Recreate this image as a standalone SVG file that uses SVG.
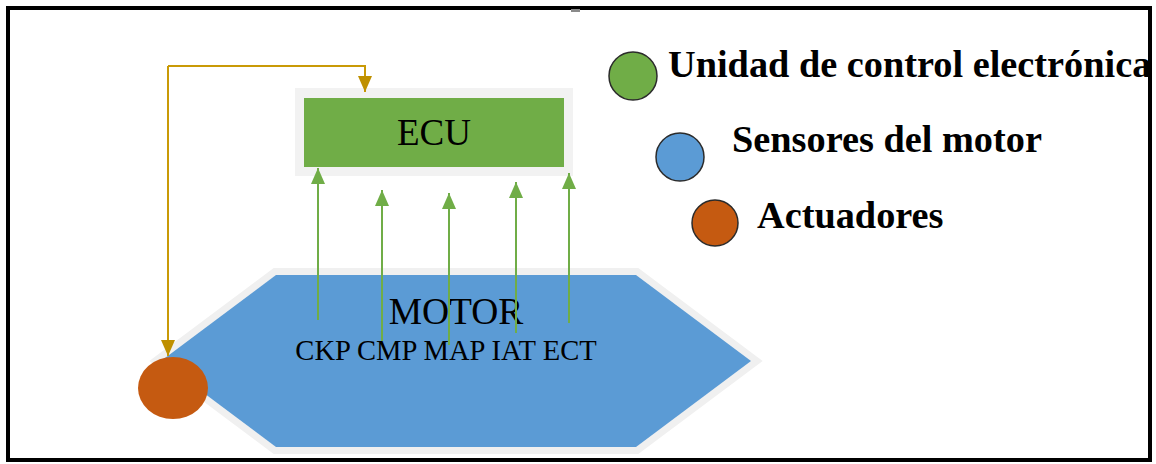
<svg xmlns="http://www.w3.org/2000/svg" width="1156" height="464" viewBox="0 0 1156 464">
  <defs>
    <marker id="ah-green" markerUnits="userSpaceOnUse" markerWidth="16" markerHeight="14" refX="16" refY="7" orient="auto">
      <path d="M0,0 L16,7 L0,14 z" fill="#70ad47"/>
    </marker>
    <marker id="ah-gold" markerUnits="userSpaceOnUse" markerWidth="16" markerHeight="14" refX="16" refY="7" orient="auto">
      <path d="M0,0 L16,7 L0,14 z" fill="#bf9000"/>
    </marker>
  </defs>
  <style>
    .serif { font-family: "Liberation Serif", "Times New Roman", serif; fill: #000; }
    .legend { font-family: "Liberation Serif", "Times New Roman", serif; font-weight: bold; font-size: 38.3px; fill: #000; }
    .sig { stroke: #70ad47; stroke-width: 2; fill: none; marker-end: url(#ah-green); }
    .fb { stroke: #c99a06; stroke-width: 2; fill: none; marker-end: url(#ah-gold); }
    .lgc { stroke: #2b2b2b; stroke-width: 1.5; }
  </style>
  <rect x="0" y="0" width="1156" height="464" fill="#ffffff"/>
  <rect x="8" y="8" width="1142" height="452" fill="none" stroke="#000" stroke-width="4"/>
  <rect x="571" y="9" width="9" height="3" fill="#8a8a8a"/>

  <g id="motor">
    <polygon points="276,275 636,275 751,361 636,447 276,447 161,361" fill="#f0f0f0" stroke="#f0f0f0" stroke-width="14" stroke-linejoin="miter"/>
    <polygon points="276,275 636,275 751,361 636,447 276,447 161,361" fill="#5b9bd5"/>
    <text class="serif" x="456" y="324" font-size="37.5" text-anchor="middle">MOTOR</text>
    <text class="serif" x="446" y="360" font-size="28.6" text-anchor="middle">CKP CMP MAP IAT ECT</text>
  </g>

  <g id="ecu">
    <rect x="295" y="88" width="278" height="88" fill="#f2f2f2"/>
    <rect x="304" y="98" width="260" height="69" fill="#70ad47"/>
    <text class="serif" x="434" y="145" font-size="37" text-anchor="middle">ECU</text>
  </g>

  <g id="actuador">
    <ellipse cx="173" cy="388" rx="35" ry="31" fill="#c55a11"/>
  </g>

  <g id="legend-ecu">
    <circle class="lgc" cx="633" cy="76" r="24" fill="#70ad47"/>
    <text class="legend" x="668" y="77">Unidad de control electrónica</text>
  </g>
  <g id="legend-sensores">
    <circle class="lgc" cx="680" cy="157" r="24" fill="#5b9bd5"/>
    <text class="legend" x="732" y="152">Sensores del motor</text>
  </g>
  <g id="legend-actuadores">
    <circle class="lgc" cx="715" cy="223" r="23" fill="#c55a11"/>
    <text class="legend" x="757" y="228">Actuadores</text>
  </g>

  <g id="connectors">
    <line class="sig" x1="318" y1="320" x2="318" y2="168"/>
    <line class="sig" x1="382" y1="341" x2="382" y2="190"/>
    <line class="sig" x1="449" y1="345" x2="449" y2="193"/>
    <line class="sig" x1="516" y1="333" x2="516" y2="182"/>
    <line class="sig" x1="569" y1="323" x2="569" y2="173"/>
    <polyline class="fb" points="168,66 365,66 365,92"/>
    <line class="fb" x1="168" y1="66" x2="168" y2="356"/>
  </g>
</svg>
